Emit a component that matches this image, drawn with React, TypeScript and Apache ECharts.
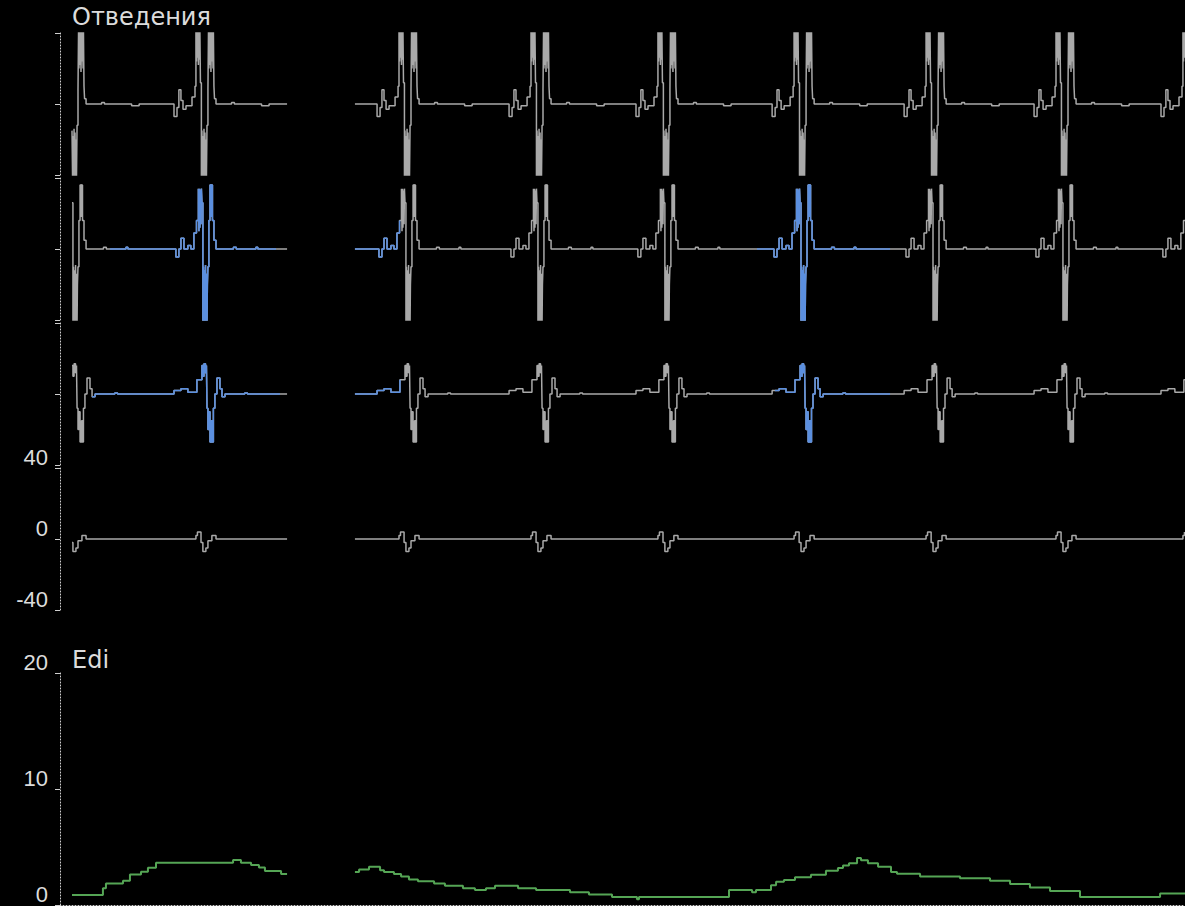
import React, { useEffect, useRef } from "react";
import * as echarts from "echarts";

// ---- time axis (ms) ----
const TIME_MIN = 0;
const TIME_MAX = 6000;

// R-wave (upstroke) times of each beat, ms
const beatTimes = [32, 725, 1808, 2512, 3189, 3915, 4619, 5312, 5989];

// visible data segments (sweep gap between them), ms
const segments: [number, number][] = [
  [64, 1211],
  [1573, 6000],
];

// beat shapes per lead: [offset from R upstroke (ms), value]
const lead1Beat: [number, number][] = [
  [-130, 0], [-117, -7], [-101, -2], [-91, 8], [-80, 2], [-69, -3], [-53, -1],
  [-21, 4], [-5, 10],
  [0, 42], [3, 24], [5, 42], [8, 26], [11, 42], [13, 22], [16, 42], [19, 25], [21, 42], [24, 12],
  [29, -42], [32, -15], [35, -42], [37, -18], [40, -42], [43, -14], [45, -42], [48, -16],
  [51, -42], [53, -20], [56, -42], [59, -12],
  [64, 8], [67, 42], [69, 20], [72, 42], [75, 22], [77, 42], [80, 18], [83, 42], [85, 24],
  [88, 42], [91, 20], [93, 42], [96, 10], [99, 3], [107, 0],
  [190, 0.8], [205, 0], [350, -1], [390, 0],
];
const lead2Beat: [number, number][] = [
  [-130, 0], [-107, -4.5], [-91, 0], [-80, 6], [-64, 0], [-43, 2], [-27, 0], [-11, 9],
  [3, 16], [13, 34], [16, 10], [19, 34], [21, 12], [24, 33], [27, 14], [29, 34], [32, 26],
  [37, -42], [40, -10], [43, -42], [45, -12], [48, -42], [51, -9], [53, -42], [56, -14],
  [59, -42], [61, -20], [64, -10],
  [69, 16], [75, 36], [80, 18], [83, 36], [88, 16], [96, 5], [107, 0],
  [200, 1], [215, 0], [320, 1], [330, 0],
];
const lead3Beat: [number, number][] = [
  [-130, 0], [-117, 2], [-80, 3], [-43, 1], [-16, 1], [5, 8],
  [32, 16], [37, 10], [43, 17], [51, 12], [56, 16],
  [59, -8], [64, -20], [69, -10], [75, -27], [83, -15], [88, -27], [93, -8], [101, 0],
  [112, 9], [128, 3], [139, -1.5], [155, 0], [260, 0.6], [275, 0],
];
const lead4Beat: [number, number][] = [
  [-20, 0], [0, 2], [8, 4], [27, -2], [37, -7], [53, -5], [64, -1], [85, 2], [107, 0],
];

// highlighted (blue) windows, ms
const lead2Blue: [number, number][] = [[267, 1152], [1573, 1813], [3717, 4427]];
const lead3Blue: [number, number][] = [[171, 1173], [1573, 1813], [3813, 4427]];

// ECG lead axis ticks
const ecgMin = -40;
const ecgMax = 40;
const ecgInterval = 40;

// Edi samples: [ms, value]
const ediSeg1: [number, number][] = [
  [64, 0.86], [229, 1.45], [245, 1.86], [336, 2.09], [373, 2.64], [432, 2.87], [469, 3.22],
  [512, 3.65], [923, 3.88], [965, 3.65], [1019, 3.45], [1061, 3.24], [1093, 2.93],
  [1179, 2.67], [1211, 2.67],
];
const ediSeg2: [number, number][] = [
  [1573, 2.84], [1595, 3.05], [1648, 3.3], [1707, 3.0], [1728, 2.84], [1781, 2.67],
  [1819, 2.45], [1861, 2.2], [1909, 2.05], [1995, 1.85], [2053, 1.65], [2149, 1.45],
  [2213, 1.3], [2272, 1.45], [2320, 1.65], [2443, 1.45], [2539, 1.3], [2720, 1.1],
  [2821, 0.9], [2944, 0.7], [3077, 0.5], [3088, 0.7], [3568, 1.3], [3691, 1.1],
  [3712, 1.3], [3792, 1.7], [3819, 2.0], [3861, 2.15], [3920, 2.4], [4005, 2.6],
  [4085, 2.95], [4149, 3.2], [4176, 3.4], [4208, 3.6], [4251, 4.05], [4272, 3.85],
  [4309, 3.6], [4363, 3.3], [4432, 2.85], [4464, 2.7], [4587, 2.45], [4800, 2.3],
  [4960, 2.1], [5067, 1.8], [5173, 1.5], [5280, 1.2], [5440, 0.7], [5867, 1.0], [6000, 1.0],
];
const ediMin = 0;
const ediMax = 20;
const ediInterval = 10;

const titleLeads = "Отведения";
const titleEdi = "Edi";

// ---- builders ----
type Pt = [number, number | null];

function heldAt(pts: Pt[], t: number): number {
  let v = 0;
  for (const p of pts) {
    if (p[1] !== null && p[0] <= t) v = p[1] as number;
  }
  return v;
}

function buildLead(tpl: [number, number][]): Pt[] {
  const pts: Pt[] = [];
  beatTimes.forEach((b) => tpl.forEach(([o, v]) => pts.push([b + o, v])));
  pts.sort((a, b) => a[0] - b[0]);
  const out: Pt[] = [];
  segments.forEach(([s, e], si) => {
    out.push([s, heldAt(pts, s)]);
    pts.forEach((p) => {
      if (p[0] > s && p[0] < e) out.push(p);
    });
    out.push([e, heldAt(pts, e)]);
    if (si < segments.length - 1) out.push([e + 0.5, null]);
  });
  return out;
}

function buildBlue(data: Pt[], wins: [number, number][]): Pt[] {
  const out: Pt[] = [];
  wins.forEach(([a, b]) => {
    out.push([a, heldAt(data, a)]);
    data.forEach((p) => {
      if (p[0] > a && p[0] < b && p[1] !== null) out.push(p);
    });
    out.push([b, heldAt(data, b)]);
    out.push([b + 0.5, null]);
  });
  return out;
}

const GRAY = "#a9a9a9";
const BLUE = "#5b8fdf";
const GREEN = "#55a555";
const AXIS = "#cfcfcf";
const TEXT = "#dcdcdc";

export default function App() {
  const ref = useRef<HTMLDivElement>(null);
  useEffect(() => {
    const chart = echarts.init(ref.current!, null, { renderer: "svg" });
    const leads = [lead1Beat, lead2Beat, lead3Beat, lead4Beat].map(buildLead);
    const bandTops = [33, 178, 323, 468];
    const bandH = 142;
    const grids: any[] = bandTops.map((t) => ({ left: 60, right: 0, top: t, height: bandH }));
    grids.push({ left: 60, right: 0, top: 673, height: 232 });

    const xAxes: any[] = grids.map((_, i) => ({
      type: "value",
      gridIndex: i,
      min: TIME_MIN,
      max: TIME_MAX,
      show: i === 4,
      axisLine: { show: i === 4, onZero: false, lineStyle: { color: AXIS, type: [1, 2], width: 1 } },
      axisTick: { show: false },
      axisLabel: { show: false },
      splitLine: { show: false },
    }));

    const labelStyle = {
      color: TEXT,
      fontFamily: "Liberation Sans",
      fontSize: 22,
      verticalAlign: "bottom" as const,
      margin: 12,
    };

    const yAxes: any[] = bandTops.map((_, i) => ({
      type: "value",
      gridIndex: i,
      min: ecgMin,
      max: ecgMax,
      interval: ecgInterval,
      axisLine: { show: true, onZero: false, lineStyle: { color: AXIS, type: [1, 2], width: 1 } },
      axisTick: { show: true, length: 5, lineStyle: { color: AXIS, width: 1 } },
      axisLabel: { show: i === 3, ...labelStyle },
      splitLine: { show: false },
    }));
    yAxes.push({
      type: "value",
      gridIndex: 4,
      min: ediMin,
      max: ediMax,
      interval: ediInterval,
      axisLine: { show: true, onZero: false, lineStyle: { color: AXIS, type: [1, 2], width: 1 } },
      axisTick: { show: true, length: 5, lineStyle: { color: AXIS, width: 1 } },
      axisLabel: { show: true, ...labelStyle },
      splitLine: { show: false },
    });

    const series: any[] = [];
    leads.forEach((d, i) => {
      series.push({
        type: "line",
        xAxisIndex: i,
        yAxisIndex: i,
        step: "end",
        symbol: "none",
        clip: true,
        data: d,
        lineStyle: { color: GRAY, width: 1.5 },
        z: 2,
      });
    });
    series.push({
      type: "line", xAxisIndex: 1, yAxisIndex: 1, step: "end", symbol: "none", clip: true,
      data: buildBlue(leads[1], lead2Blue), lineStyle: { color: BLUE, width: 1.5 }, z: 3,
    });
    series.push({
      type: "line", xAxisIndex: 2, yAxisIndex: 2, step: "end", symbol: "none", clip: true,
      data: buildBlue(leads[2], lead3Blue), lineStyle: { color: BLUE, width: 1.5 }, z: 3,
    });
    const lastSeg1 = ediSeg1[ediSeg1.length - 1][0];
    const ediData: Pt[] = [...ediSeg1, [lastSeg1 + 0.5, null], ...ediSeg2];
    series.push({
      type: "line", xAxisIndex: 4, yAxisIndex: 4, step: "end", symbol: "none", clip: true,
      data: ediData, lineStyle: { color: GREEN, width: 2 }, z: 3,
    });

    chart.setOption({
      animation: false,
      backgroundColor: "#000",
      grid: grids,
      xAxis: xAxes,
      yAxis: yAxes,
      series,
      graphic: [
        {
          type: "text", left: 72, top: 5,
          style: { text: titleLeads, fill: TEXT, font: "24px 'DejaVu Sans'" },
        },
        {
          type: "text", left: 72, top: 648,
          style: { text: titleEdi, fill: TEXT, font: "24px 'DejaVu Sans'" },
        },
      ],
    });
    return () => chart.dispose();
  }, []);
  return (
    <div
      ref={ref}
      style={{ position: "fixed", left: 0, top: 0, width: 1185, height: 906, background: "#000" }}
    />
  );
}
